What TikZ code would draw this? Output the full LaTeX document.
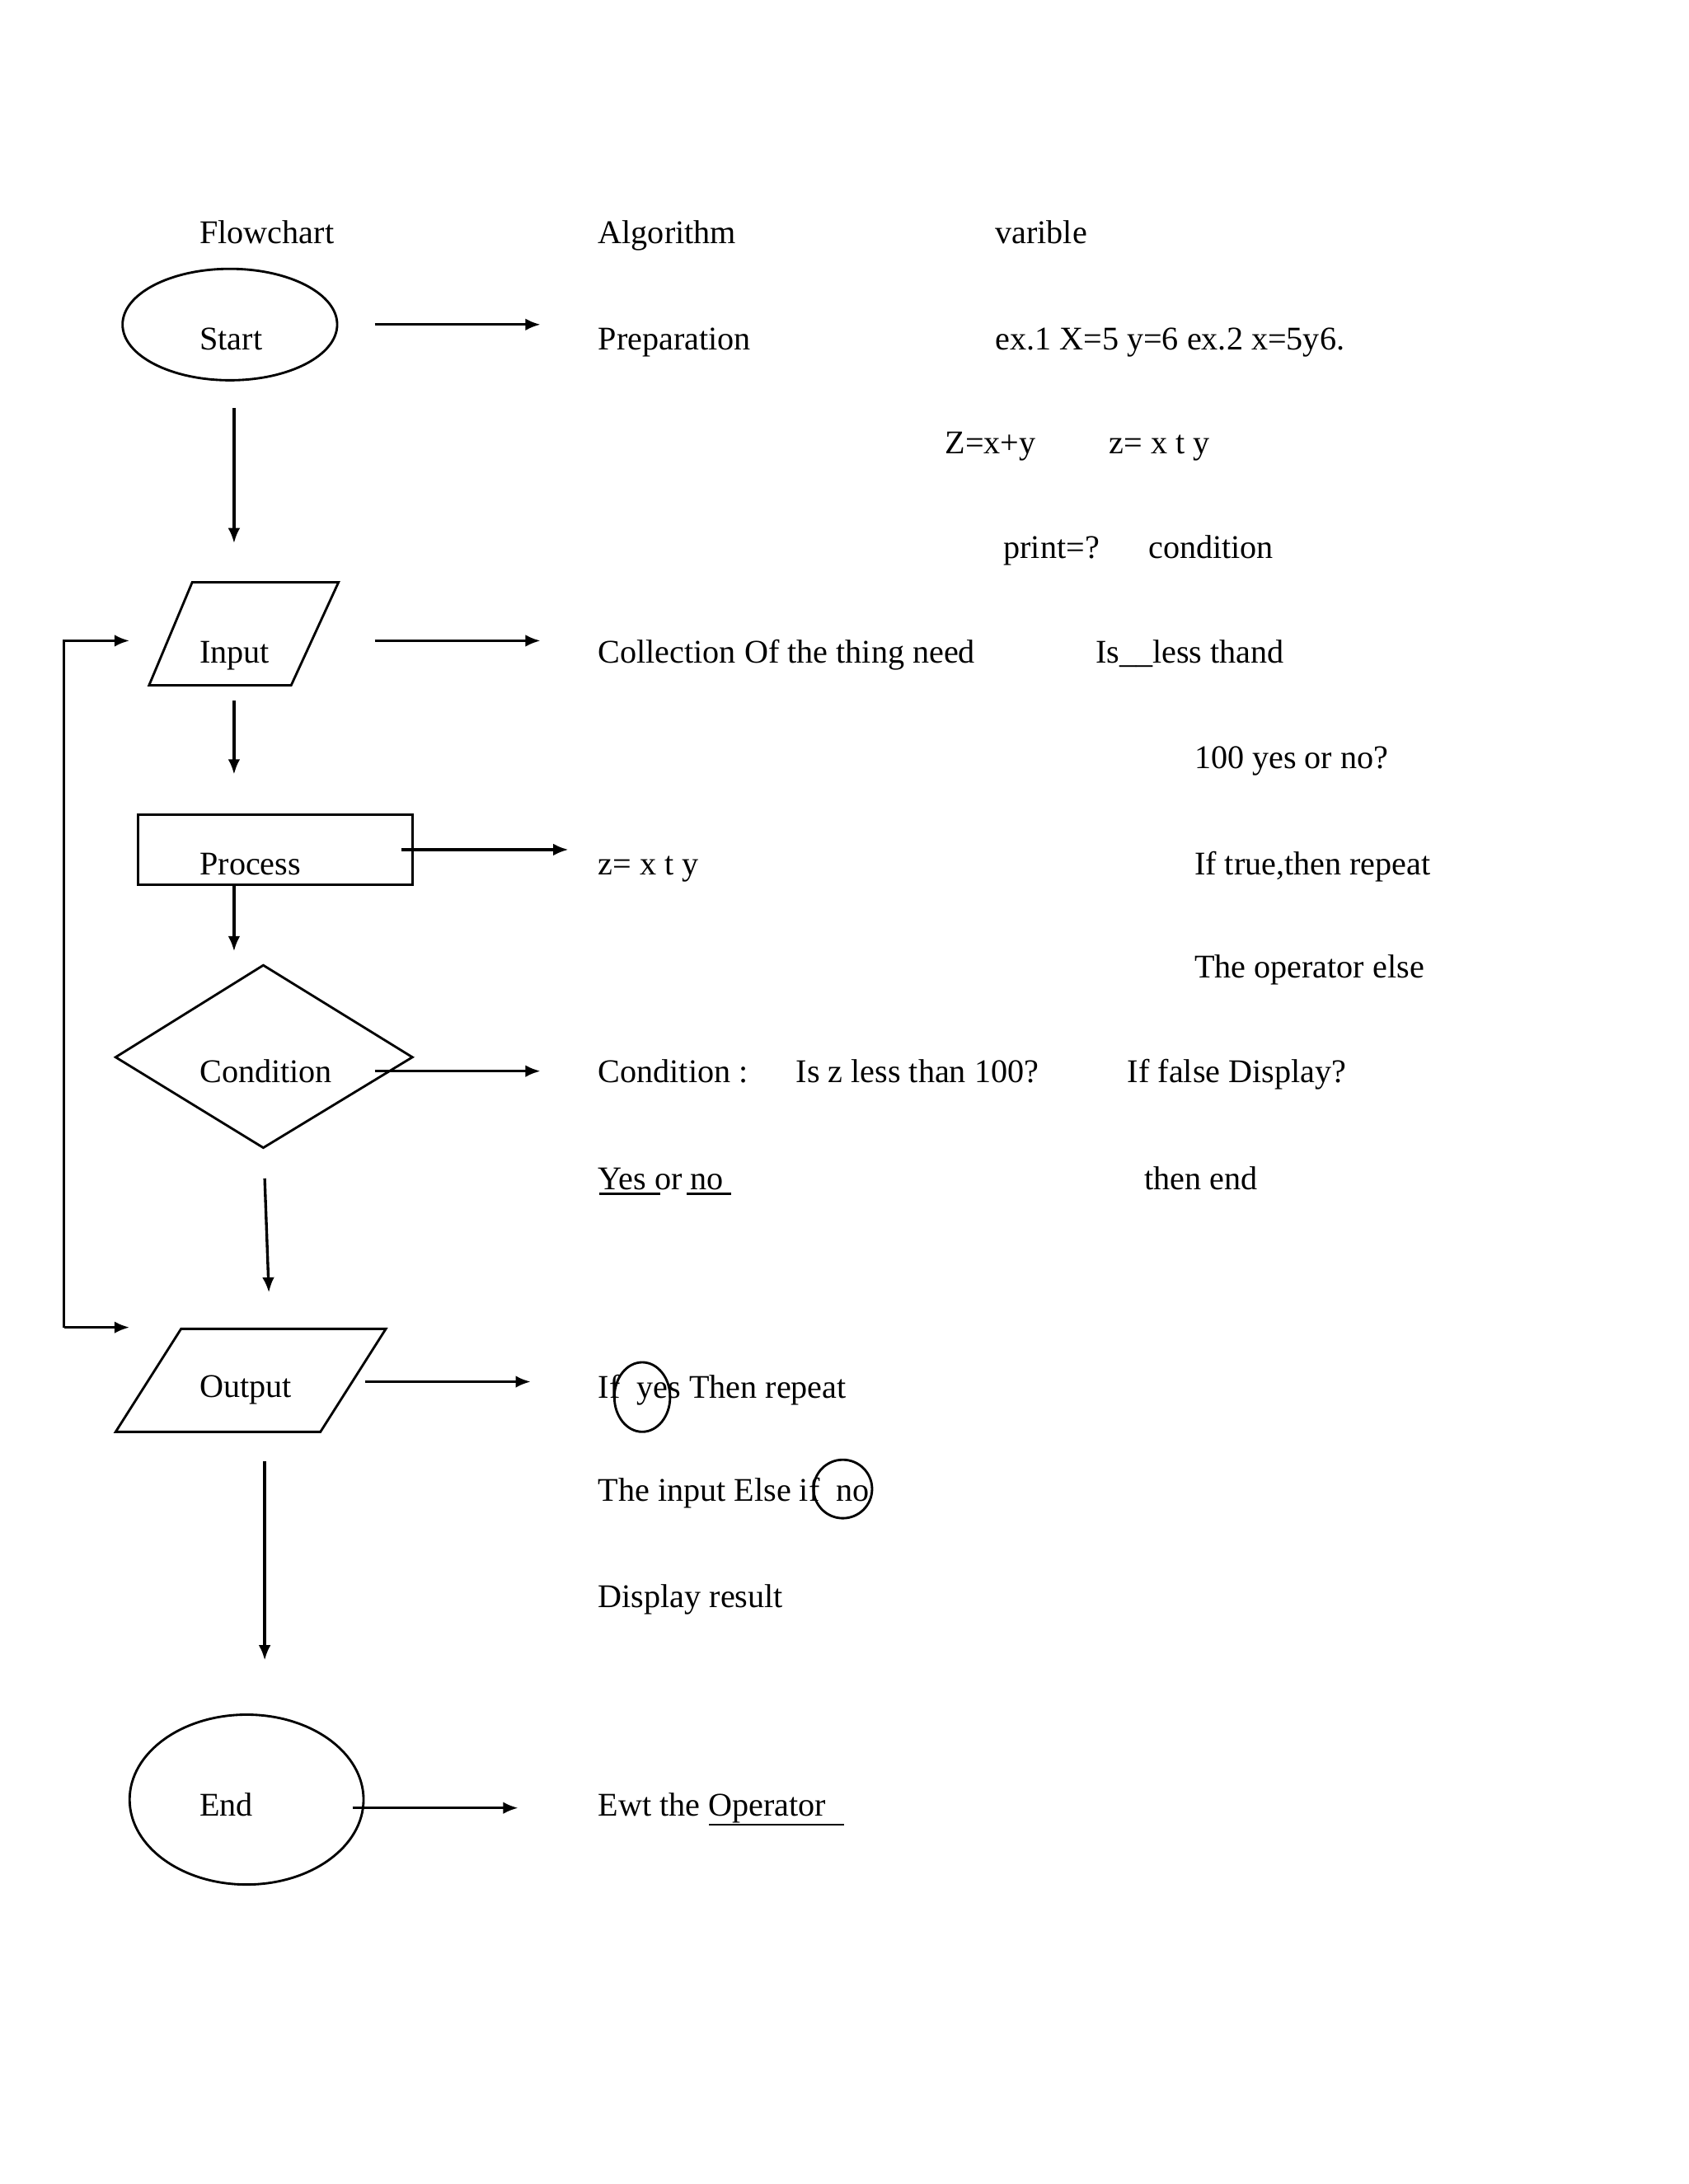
\documentclass[tikz,border=0pt]{standalone}
\usepackage{fontspec}
\setmainfont{Liberation Serif}
\usetikzlibrary{arrows.meta,shapes.geometric}
\begin{document}
\begin{tikzpicture}[x=0.505pt,y=-0.505pt,
  txt/.style={anchor=base west,inner sep=0pt,font=\fontsize{12}{14}\selectfont},
  shp/.style={draw,line width=0.85pt,inner sep=0pt},
  arr/.style={line width=1pt,-{Latex[length=5.5pt,width=4.4pt]}},
  ln/.style={line width=0.85pt},
  ring/.style={draw,ellipse,line width=0.85pt,inner sep=0pt}]
\useasboundingbox[fill=white] (0,0) rectangle (1212,1568);

% ---- shapes ----
\node[shp,ellipse,minimum width=77.8pt,minimum height=40.4pt] (start) at (165,233) {};
\draw[shp] (138,418) -- (243,418) -- (209,492) -- (107,492) -- cycle;
\node[shp,rectangle,minimum width=99.5pt,minimum height=25.3pt] (proc) at (197.5,610) {};
\draw[shp] (189,693) -- (296,759) -- (189,824) -- (83,759) -- cycle;
\draw[shp] (130,954) -- (277,954) -- (230,1028) -- (83,1028) -- cycle;
\node[shp,ellipse,minimum width=84.8pt,minimum height=61.6pt] (end) at (177,1292) {};

% ---- connector end points ----
\coordinate (a1s) at (269,233);  \coordinate (a1e) at (388,233);
\coordinate (a2s) at (168,293);  \coordinate (a2e) at (168,390);
\coordinate (a3s) at (269,460);  \coordinate (a3e) at (388,460);
\coordinate (a4s) at (168,503);  \coordinate (a4e) at (168,556);
\coordinate (a5s) at (288,610);  \coordinate (a5e) at (408,610);
\coordinate (a6s) at (168,635);  \coordinate (a6e) at (168,683);
\coordinate (a7s) at (269,769);  \coordinate (a7e) at (388,769);
\coordinate (a8s) at (190,846);  \coordinate (a8e) at (193,928);
\coordinate (a9s) at (262,992);  \coordinate (a9e) at (381,992);
\coordinate (a10s) at (190,1049); \coordinate (a10e) at (190,1192);
\coordinate (a11s) at (253,1298); \coordinate (a11e) at (372,1298);
\coordinate (lpt) at (46,460);   \coordinate (lpb) at (46,953);
\coordinate (lpi) at (93,460);   \coordinate (lpo) at (93,953);

\draw[arr] (a1s) -- (a1e);
\draw[arr] (a2s) -- (a2e);
\draw[arr] (a3s) -- (a3e);
\draw[arr] (a4s) -- (a4e);
\draw[arr] (a5s) -- (a5e);
\draw[arr] (a6s) -- (a6e);
\draw[arr] (a7s) -- (a7e);
\draw[arr] (a8s) -- (a8e);
\draw[arr] (a9s) -- (a9e);
\draw[arr] (a10s) -- (a10e);
\draw[arr] (a11s) -- (a11e);
\draw[arr] (lpb) -- (lpt) -- (lpi);
\draw[arr] (lpb) -- (lpo);

% ---- texts ----
\node[txt] (t1) at (143,175) {Flowchart};
\node[txt] (t2) at (429,175) {Algorithm};
\node[txt] (t3) at (714,175) {varible};
\node[txt] (t4) at (143,251) {Start};
\node[txt] (t5) at (429,251) {Preparation};
\node[txt] (t6) at (714,251) {ex.1 X=5 y=6 ex.2 x=5y6.};
\node[txt] (t7) at (678,326) {Z=x+y};
\node[txt] (t8) at (796,326) {z= x t y};
\node[txt] (t9) at (720,401) {print=?};
\node[txt] (t10) at (824,401) {condition};
\node[txt] (t11) at (143,476) {Input};
\node[txt] (t12) at (429,476) {Collection Of the thing need};
\node[txt] (t13) at (786,476) {Is\_\_less thand};
\node[txt] (t14) at (857,552) {100 yes or no?};
\node[txt] (t15) at (143,628) {Process};
\node[txt] (t16) at (429,628) {z= x t y};
\node[txt] (t17) at (857,628) {If true,then repeat};
\node[txt] (t18) at (857,702) {The operator else};
\node[txt] (t19) at (143,777) {Condition};
\node[txt] (t20) at (429,777) {Condition :};
\node[txt] (t21) at (571,777) {Is z less than 100?};
\node[txt] (t22) at (809,777) {If false Display?};
\node[txt] (t23) at (429,854) {Yes or no};
\node[txt] (t24) at (821,854) {then end};
\node[txt] (t25) at (143,1003) {Output};
\node[txt] (t26) at (429,1004) {If\ \ yes Then repeat};
\node[txt] (t27) at (429,1078) {The input Else if\ \ no};
\node[txt] (t28) at (429,1154) {Display result};
\node[txt] (t29) at (143,1304) {End};
\node[txt] (t30) at (429,1304) {Ewt the Operator};

% ---- marks on texts ----
\draw[ln] (430,857) -- (474,857);
\draw[ln] (493,857) -- (525,857);
\draw[ln] (509,1310) -- (606,1310);
\node[ring,minimum width=20.2pt,minimum height=25.2pt] (cyes) at (461,1003) {};
\node[ring,minimum width=21.2pt,minimum height=21.2pt] (cno) at (605,1069) {};
\end{tikzpicture}
\end{document}
